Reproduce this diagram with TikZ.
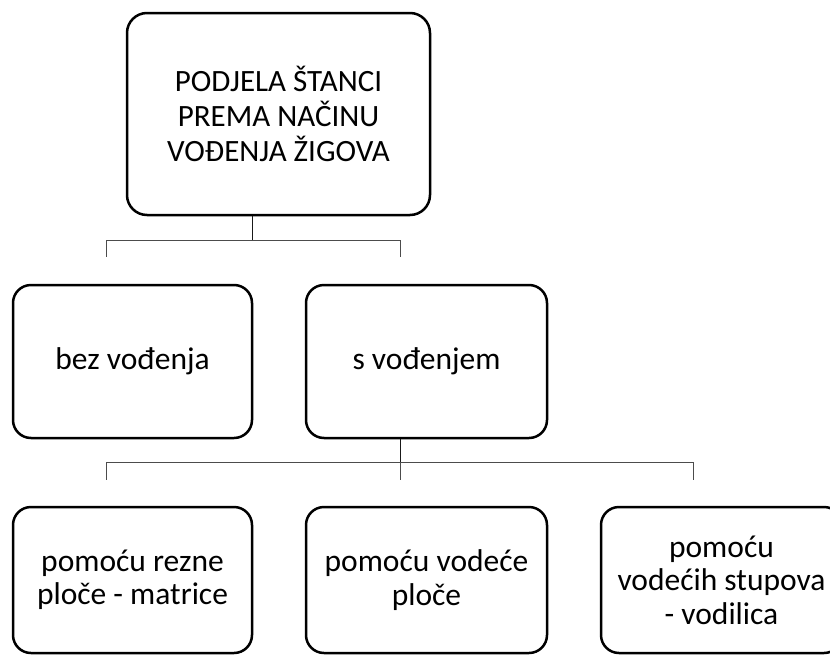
\documentclass[tikz,border=0pt]{standalone}
\usepackage{fontspec}
\setmainfont{Carlito}
\usepackage{tikz}
\tikzstyle{level} = [rectangle, rounded corners=18pt,
minimum width=241pt,
minimum height=153pt,
inner sep=0pt,
align=center,
draw=black,
line width=2.5pt,
fill=white,
font=\fontsize{31.5}{33.5}\selectfont]
\tikzstyle{link} = [line width=1.3pt, draw=black!70]
\tikzstyle{stem} = [line width=1.4pt, draw=black!90]

\begin{document}
\begin{tikzpicture}[x=1pt,y=-1pt]
				\useasboundingbox (0,0) rectangle (830,656);
				\clip (0,0) rectangle (830,656);
				\node[level, minimum width=303pt, minimum height=202pt, rounded corners=20pt,
					font=\fontsize{31}{35}\selectfont] (podjela) at (278.5,114) {PODJELA ŠTANCI\\PREMA NAČINU\\VOĐENJA ŽIGOVA};
				\node[level, minimum width=239pt] (bez-v) at (132.5,361.5) {bez vođenja};
				\node[level] (s-v) at (426.5,361.5) {s vođenjem};
				\node[level, minimum width=239pt, minimum height=146pt] (rezna) at (132.5,580) {pomoću rezne\\ploče - matrice};
				\node[level, minimum height=146pt] (vodeca) at (426.5,580) {pomoću vodeće\\ploče};
				\node[level, minimum height=146pt] (stupovi) at (721.5,580) {pomoću\\vodećih stupova\\- vodilica};

				\draw[stem] ([xshift=-26pt]podjela.south) -- ++(0pt,-24pt) coordinate (j-1);
				\draw[link] ([xshift=-26pt,yshift=27pt]bez-v.north) |- (j-1) -| ([xshift=-26pt,yshift=27pt]s-v.north);
				\draw[stem] ([xshift=-26pt]s-v.south) -- ++(0pt,-23pt) coordinate (j-2);
				\draw[link] ([xshift=-26pt,yshift=26pt]rezna.north) |- (j-2) -| ([xshift=-28pt,yshift=26pt]stupovi.north);
				\draw[link] (j-2) -- ([xshift=-26pt,yshift=26pt]vodeca.north);
			\end{tikzpicture}
\end{document}
